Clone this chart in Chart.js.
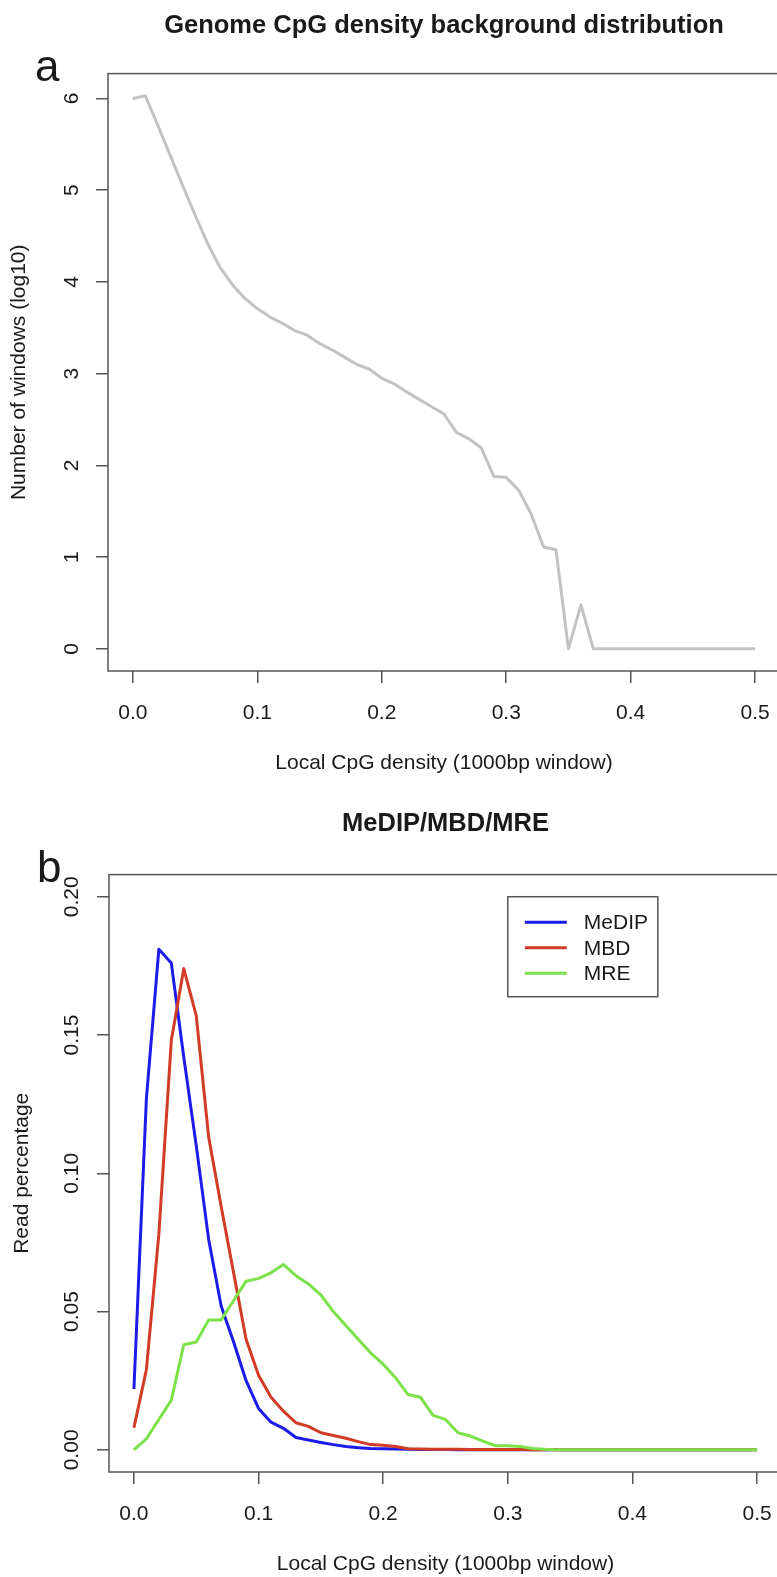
<!DOCTYPE html>
<html>
<head>
<meta charset="utf-8">
<title>CpG density</title>
<script src="https://cdn.jsdelivr.net/npm/chart.js@4.4.0/dist/chart.umd.min.js"></script>
<style>
  html, body { margin: 0; padding: 0; background: #fff; overflow: hidden; }
  #wrap { position: relative; width: 777px; height: 1577px; overflow: hidden; }
  canvas { position: absolute; left: 0; }
  #chartA { top: 0; }
  #chartB { top: 790px; }
</style>
</head>
<body>
<div id="wrap">
  <canvas id="chartA" width="781" height="790"></canvas>
  <canvas id="chartB" width="783" height="787"></canvas>
</div>
<script>
// x: local CpG density (1000bp window)
const density = [
  0.00, 0.01, 0.02, 0.03, 0.04, 0.05, 0.06, 0.07, 0.08, 0.09,
  0.10, 0.11, 0.12, 0.13, 0.14, 0.15, 0.16, 0.17, 0.18, 0.19,
  0.20, 0.21, 0.22, 0.23, 0.24, 0.25, 0.26, 0.27, 0.28, 0.29,
  0.30, 0.31, 0.32, 0.33, 0.34, 0.35, 0.36, 0.37, 0.38, 0.39,
  0.40, 0.41, 0.42, 0.43, 0.44, 0.45, 0.46, 0.47, 0.48, 0.49, 0.50
];

// panel a: number of windows (log10)
const genomeLog10 = [
  6.00, 6.03, 5.71, 5.38, 5.05, 4.73, 4.42, 4.16, 3.97, 3.82,
  3.71, 3.62, 3.55, 3.47, 3.42, 3.33, 3.26, 3.18, 3.10, 3.05,
  2.95, 2.89, 2.80, 2.72, 2.64, 2.56, 2.36, 2.29, 2.19, 1.88,
  1.87, 1.73, 1.47, 1.11, 1.08, 0.00, 0.48, 0.00, 0.00, 0.00,
  0.00, 0.00, 0.00, 0.00, 0.00, 0.00, 0.00, 0.00, 0.00, 0.00, 0.00
];

// panel b: read percentage
const medip = [
  0.022, 0.127, 0.181, 0.176, 0.142, 0.110, 0.076, 0.052, 0.039, 0.025,
  0.015, 0.010, 0.0078, 0.0045, 0.0036, 0.0027, 0.0019, 0.0012, 0.0008, 0.0005,
  0.0004, 0.0003, 0.0002, 0.0001, 0.0001, 0.0001, 0, 0, 0, 0,
  0, 0, 0, 0, 0, 0, 0, 0, 0, 0,
  0, 0, 0, 0, 0, 0, 0, 0, 0, 0, 0
];
const mbd = [
  0.008, 0.029, 0.078, 0.148, 0.174, 0.157, 0.113, 0.088, 0.064, 0.040,
  0.027, 0.019, 0.014, 0.0098, 0.0085, 0.0062, 0.0052, 0.0042, 0.0030, 0.0019,
  0.0017, 0.0012, 0.0004, 0.0003, 0.0002, 0.0002, 0.0002, 0.0001, 0.0001, 0.0001,
  0.0001, 0.0001, 0, 0, 0, 0, 0, 0, 0, 0,
  0, 0, 0, 0, 0, 0, 0, 0, 0, 0, 0
];
const mre = [
  0.000, 0.004, 0.011, 0.018, 0.038, 0.039, 0.047, 0.047, 0.054, 0.061,
  0.062, 0.064, 0.067, 0.063, 0.060, 0.056, 0.050, 0.045, 0.040, 0.035,
  0.031, 0.026, 0.020, 0.019, 0.0125, 0.011, 0.0062, 0.005, 0.0032, 0.0015,
  0.0015, 0.0012, 0.0005, 0.0002, 0, 0, 0, 0, 0, 0,
  0, 0, 0, 0, 0, 0, 0, 0, 0, 0, 0
];

const seriesNames = ['MeDIP', 'MBD', 'MRE'];
const seriesColors = ['#1c1ce8', '#d23c26', '#7de24a'];

const xTickValues = [0, 0.1, 0.2, 0.3, 0.4, 0.5];
const xTickLabels = ['0.0', '0.1', '0.2', '0.3', '0.4', '0.5'];
const yTickValuesA = [0, 1, 2, 3, 4, 5, 6];
const yTickLabelsA = ['0', '1', '2', '3', '4', '5', '6'];
const yTickValuesB = [0, 0.05, 0.10, 0.15, 0.20];
const yTickLabelsB = ['0.00', '0.05', '0.10', '0.15', '0.20'];

const titleA = 'Genome CpG density background distribution';
const titleB = 'MeDIP/MBD/MRE';
const xTitle = 'Local CpG density (1000bp window)';
const yTitleA = 'Number of windows (log10)';
const yTitleB = 'Read percentage';

Chart.defaults.font.family = '"Liberation Sans", Arial, Helvetica, sans-serif';
Chart.defaults.color = '#1a1a1a';
const frameColor = '#555';
const textColor = '#1a1a1a';

// R style 4% axis extension
const xMin = 0 - 0.04 * 0.5;
const xMax = 0.5 + 0.04 * 0.5;
const rangeA = Math.max(...genomeLog10) - 0;
const yMinA = 0 - 0.04 * rangeA;
const yMaxA = Math.max(...genomeLog10) + 0.04 * rangeA;
const yMinB = 0 - 0.04 * 0.2;
const yMaxB = 0.2 + 0.04 * 0.2;

// frame box + panel letter
const panelDecor = {
  id: 'panelDecor',
  afterDatasetsDraw(chart, args, opts) {
    const { ctx, chartArea: a } = chart;
    ctx.save();
    ctx.strokeStyle = frameColor;
    ctx.lineWidth = 1.5;
    ctx.strokeRect(a.left, a.top, a.right - a.left, a.bottom - a.top);
    ctx.fillStyle = textColor;
    ctx.font = '44px "Liberation Sans", Arial, sans-serif';
    ctx.textAlign = 'left';
    ctx.textBaseline = 'alphabetic';
    ctx.fillText(opts.letter, opts.letterX, opts.letterY);
    ctx.restore();
  }
};

// R-like boxed legend anchored at a data position (top-left corner)
const boxLegend = {
  id: 'boxLegend',
  afterDatasetsDraw(chart, args, opts) {
    if (!opts.at) return;
    const { ctx, scales } = chart;
    const left = scales.x.getPixelForValue(opts.at[0]);
    const top = scales.y.getPixelForValue(opts.at[1]);
    const sets = chart.data.datasets;
    const rowH = 25.5;
    const w = 150;
    const h = rowH * (sets.length + 1) - 2;
    ctx.save();
    ctx.fillStyle = '#fff';
    ctx.fillRect(left, top, w, h);
    ctx.strokeStyle = frameColor;
    ctx.lineWidth = 1.5;
    ctx.strokeRect(left, top, w, h);
    ctx.font = '21px "Liberation Sans", Arial, sans-serif';
    ctx.textBaseline = 'middle';
    ctx.textAlign = 'left';
    sets.forEach((ds, i) => {
      const y = top + rowH * (i + 1);
      ctx.strokeStyle = ds.borderColor;
      ctx.lineWidth = 3;
      ctx.beginPath();
      ctx.moveTo(left + 17, y);
      ctx.lineTo(left + 59, y);
      ctx.stroke();
      ctx.fillStyle = textColor;
      ctx.fillText(ds.label, left + 76, y + 1);
    });
    ctx.restore();
  }
};

function xScale(axisHeight, titlePadBottom) {
  return {
    type: 'linear',
    min: xMin,
    max: xMax,
    afterBuildTicks: s => { s.ticks = xTickValues.map(v => ({ value: v })); },
    afterFit: s => {
      s.height = axisHeight;
      s.paddingLeft = 0;
      s.paddingRight = 0;
    },
    ticks: {
      callback: (v, i) => xTickLabels[i],
      font: { size: 21 },
      color: textColor,
      padding: 18,
      autoSkip: false,
      maxRotation: 0
    },
    grid: { drawOnChartArea: false, tickLength: 12, color: frameColor, lineWidth: 1.5 },
    border: { display: false },
    title: {
      display: true, text: xTitle, color: textColor,
      font: { size: 21 }, padding: { top: 0, bottom: titlePadBottom }
    }
  };
}

function yScale(min, max, values, labels, axisWidth, tickPad, titlePad, title) {
  return {
    type: 'linear',
    min: min,
    max: max,
    afterBuildTicks: s => { s.ticks = values.map(v => ({ value: v })); },
    afterFit: s => {
      s.width = axisWidth;
      s.paddingTop = 0;
      s.paddingBottom = 0;
    },
    ticks: {
      callback: (v, i) => labels[i],
      font: { size: 21 },
      color: textColor,
      minRotation: 90,
      maxRotation: 90,
      crossAlign: 'center',
      padding: tickPad,
      autoSkip: false
    },
    grid: { drawOnChartArea: false, tickLength: 12, color: frameColor, lineWidth: 1.5 },
    border: { display: false },
    title: {
      display: true, text: title, color: textColor,
      font: { size: 21 }, padding: { top: titlePad, bottom: 0 }
    }
  };
}

new Chart(document.getElementById('chartA'), {
  type: 'line',
  data: {
    labels: density,
    datasets: [{
      label: 'Genome',
      data: genomeLog10,
      borderColor: '#c3c3c3',
      borderWidth: 3,
      pointRadius: 0,
      tension: 0,
      borderJoinStyle: 'round'
    }]
  },
  plugins: [panelDecor],
  options: {
    responsive: false,
    animation: false,
    devicePixelRatio: 1,
    layout: { padding: { top: 0, left: 0, right: 1, bottom: 0 } },
    scales: {
      x: xScale(119, 14),
      y: yScale(yMinA, yMaxA, yTickValuesA, yTickLabelsA, 108, 18, 7, yTitleA)
    },
    plugins: {
      legend: { display: false },
      tooltip: { enabled: false },
      title: {
        display: true, text: titleA, color: textColor, fullSize: false,
        font: { size: 25.5, weight: 'bold' }, padding: { top: 11, bottom: 32 }
      },
      panelDecor: { letter: 'a', letterX: 35, letterY: 81 }
    }
  }
});

const seriesB = [medip, mbd, mre];
new Chart(document.getElementById('chartB'), {
  type: 'line',
  data: {
    labels: density,
    datasets: seriesB.map((vals, i) => ({
      label: seriesNames[i],
      data: vals,
      borderColor: seriesColors[i],
      borderWidth: 3,
      pointRadius: 0,
      tension: 0,
      borderJoinStyle: 'round',
      order: seriesB.length - i
    }))
  },
  plugins: [panelDecor, boxLegend],
  options: {
    responsive: false,
    animation: false,
    devicePixelRatio: 1,
    layout: { padding: { top: 0, left: 0, right: 1, bottom: 0 } },
    scales: {
      x: xScale(105, 0),
      y: yScale(yMinB, yMaxB, yTickValuesB, yTickLabelsB, 109, 4, 10, yTitleB)
    },
    plugins: {
      legend: { display: false },
      tooltip: { enabled: false },
      title: {
        display: true, text: titleB, color: textColor, fullSize: false,
        font: { size: 25.5, weight: 'bold' }, padding: { top: 19, bottom: 35 }
      },
      panelDecor: { letter: 'b', letterX: 37, letterY: 92 },
      boxLegend: { at: [0.3, 0.2] }
    }
  }
});
</script>
</body>
</html>
